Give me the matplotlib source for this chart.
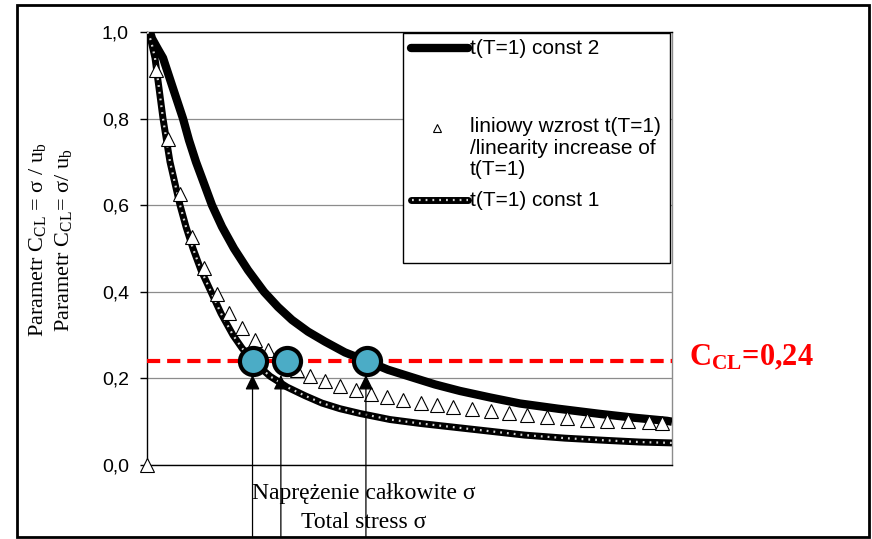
import matplotlib
matplotlib.use("Agg")
import matplotlib.pyplot as plt
from matplotlib.lines import Line2D
from matplotlib.patches import Rectangle

plt.rcParams['mathtext.fontset'] = 'custom'
plt.rcParams['mathtext.rm'] = 'Liberation Serif'
plt.rcParams['mathtext.it'] = 'Liberation Serif:italic'
plt.rcParams['mathtext.bf'] = 'Liberation Serif:bold'
plt.rcParams['lines.scale_dashes'] = False

# ---- data (stress in relative units 0..100, C_CL) ----
const2_x = [0.57, 0.95, 2.10, 3.05, 4.95, 6.86, 8.00, 9.33, 10.86, 12.38, 14.29,
            16.57, 19.24, 22.29, 24.95, 27.62, 30.67, 33.90, 37.71, 41.90, 45.90,
            50.10, 54.86, 59.62, 65.33, 71.05, 78.29, 86.29, 92.95, 99.05, 100.0]
const2_y = [1.0, 0.985, 0.96, 0.94, 0.87, 0.80, 0.75, 0.70, 0.65, 0.60, 0.55,
            0.50, 0.45, 0.40, 0.365, 0.335, 0.308, 0.285, 0.26, 0.24, 0.22,
            0.204, 0.186, 0.171, 0.156, 0.142, 0.130, 0.118, 0.109, 0.102, 0.100]

const1_x = [0.10, 0.76, 1.52, 2.29, 3.05, 4.38, 5.33, 6.29, 7.43, 8.76, 10.29,
            12.19, 14.10, 16.38, 18.10, 20.19, 23.43, 26.67, 30.10, 33.33, 36.76,
            40.57, 46.29, 52.00, 58.67, 65.33, 72.00, 79.62, 87.24, 93.90, 100.0]
const1_y = [1.0, 0.98, 0.94, 0.87, 0.80, 0.70, 0.65, 0.60, 0.55, 0.50, 0.45,
            0.40, 0.35, 0.30, 0.27, 0.24, 0.205, 0.18, 0.16, 0.143, 0.13,
            0.119, 0.105, 0.096, 0.087, 0.078, 0.069, 0.062, 0.057, 0.053, 0.051]

linear_x = [0.0, 1.7, 4.06, 6.29, 8.51, 10.91, 13.28, 15.68, 18.10, 20.57, 23.10,
            25.71, 28.51, 31.05, 33.90, 36.76, 39.75, 42.67, 45.66, 48.76, 52.13,
            55.18, 58.38, 61.96, 65.47, 68.95, 72.44, 76.13, 79.94, 83.75, 87.56,
            91.56, 95.62, 98.04]
linear_y = [0.0, 0.912, 0.754, 0.627, 0.527, 0.454, 0.396, 0.350, 0.316, 0.289,
            0.266, 0.243, 0.219, 0.205, 0.194, 0.182, 0.173, 0.164, 0.156, 0.150,
            0.144, 0.139, 0.133, 0.129, 0.125, 0.119, 0.115, 0.110, 0.108, 0.105,
            0.102, 0.101, 0.099, 0.098]

ccl_limit = 0.24
cross_x = [20.2, 26.6, 41.9]      # intersections with C_CL = 0.24
arrow_x = [20.1, 25.5, 41.7]      # arrows pointing at intersections

yticks = [0.0, 0.2, 0.4, 0.6, 0.8, 1.0]
ytick_labels = ['0,0', '0,2', '0,4', '0,6', '0,8', '1,0']

# ---- figure ----
W, H = 872, 539
fig = plt.figure(figsize=(W / 100, H / 100), dpi=100)
fig.patch.set_facecolor('white')

def fx(px):
    return px / W

def fy(py):
    return 1 - py / H

ax = fig.add_axes([fx(147), fy(465), (672 - 147) / W, (465 - 32) / H])
ax.set_xlim(0, 100)
ax.set_ylim(0, 1.0)
ax.set_xticks([])
ax.set_yticks(yticks)
ax.set_yticklabels(ytick_labels, fontfamily='Liberation Sans', fontsize=14)
ax.tick_params(axis='y', direction='out', length=5, width=1, pad=8)
ax.grid(axis='y', color='#8c8c8c', lw=0.9)
ax.set_axisbelow(True)
for s in ['left', 'bottom', 'top']:
    ax.spines[s].set_color('black')
    ax.spines[s].set_linewidth(1.0)
ax.spines['right'].set_color('#8c8c8c')
ax.spines['right'].set_linewidth(1.0)

DOT = '#d4d4d4'

# curves
ax.plot(const2_x, const2_y, color='black', lw=6, solid_capstyle='butt',
        solid_joinstyle='round', zorder=3)
ax.plot(const1_x, const1_y, color='black', lw=5, solid_capstyle='butt',
        solid_joinstyle='round', zorder=3)
ax.plot(const1_x, const1_y, color=DOT, lw=1.6, dashes=(1.3, 3.6),
        dash_capstyle='butt', zorder=3.1)
ax.plot(linear_x, linear_y, ls='none', marker='^', ms=9.4, mfc='white',
        mec='black', mew=0.8, zorder=4, clip_on=False)

# limit line
ax.plot([0, 100], [ccl_limit, ccl_limit], color='red', lw=3, dashes=(9.5, 5),
        zorder=5)

# intersection circles
ax.plot(cross_x, [ccl_limit] * len(cross_x), ls='none', marker='o', ms=19.5,
        mfc='#4BACC6', mec='black', mew=3, zorder=6)

# arrows
for xa in arrow_x:
    ax.annotate('', xy=(xa, 0.208), xytext=(xa, -0.166),
                arrowprops=dict(arrowstyle='-|>,head_length=0.45,head_width=0.22',
                                color='black', lw=0.9, mutation_scale=20,
                                shrinkA=0, shrinkB=0),
                annotation_clip=False, zorder=7)

# red label
fig.text(fx(689), fy(365), r'$\mathbf{C_{CL}}$=0,24', color='red',
         fontfamily='Liberation Serif', fontweight='bold', fontsize=22,
         ha='left', va='baseline')

# axis labels
fig.text(fx(38), fy(240), r'Parametr $\mathregular{C_{CL}}$ = σ / $\mathregular{u_b}$',
         rotation=90, ha='center', va='center', fontfamily='Liberation Serif',
         fontsize=16)
fig.text(fx(63), fy(240), r'Parametr $\mathregular{C_{CL}}$= σ/ $\mathregular{u_b}$',
         rotation=90, ha='center', va='center', fontfamily='Liberation Serif',
         fontsize=16)
fig.text(fx(364), fy(494), 'Naprężenie całkowite σ', ha='center', va='center',
         fontfamily='Liberation Serif', fontsize=17)
fig.text(fx(364), fy(522), 'Total stress σ', ha='center', va='center',
         fontfamily='Liberation Serif', fontsize=17)

# legend (manual)
fig.add_artist(Rectangle((fx(403), fy(263)), (670 - 403) / W, (263 - 33) / H,
                         transform=fig.transFigure, facecolor='white',
                         edgecolor='black', lw=1.0, zorder=8))
fig.add_artist(Line2D([fx(411), fx(468)], [fy(48), fy(48)], color='black', lw=6,
                      solid_capstyle='round', zorder=9))
fig.add_artist(Line2D([fx(411), fx(468)], [fy(200), fy(200)], color='black', lw=5,
                      solid_capstyle='round', zorder=9))
fig.add_artist(Line2D([fx(412), fx(468)], [fy(200), fy(200)], color=DOT,
                      lw=1.6, dashes=(1.3, 3.6), dash_capstyle='butt', zorder=9.1))
fig.add_artist(Line2D([fx(437)], [fy(128)], ls='none', marker='^', ms=6,
                      mfc='white', mec='black', mew=0.8, zorder=9))
lg = dict(fontfamily='Liberation Sans', fontsize=15, ha='left', va='center',
          zorder=9)
fig.text(fx(470), fy(48), 't(T=1) const 2', **lg)
fig.text(fx(470), fy(127), 'liniowy wzrost t(T=1)', **lg)
fig.text(fx(470), fy(148.5), '/linearity increase of', **lg)
fig.text(fx(470), fy(170), 't(T=1)', **lg)
fig.text(fx(470), fy(200), 't(T=1) const 1', **lg)

# outer frame
fig.add_artist(Rectangle((fx(17), fy(537)), (869 - 17) / W, (537 - 5) / H,
                         transform=fig.transFigure, facecolor='none',
                         edgecolor='black', lw=2, zorder=10))

fig.savefig('out.png', dpi=100)
